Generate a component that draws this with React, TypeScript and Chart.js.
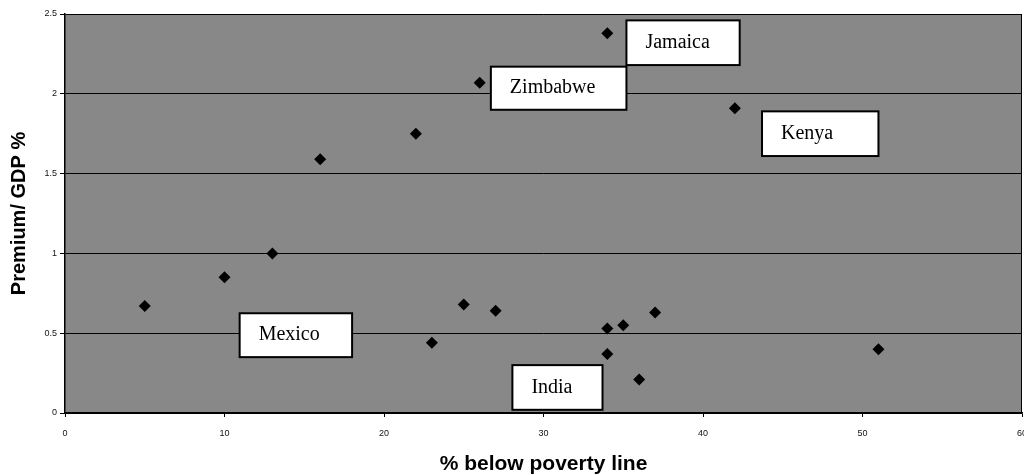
import React, { useEffect, useRef } from "react";
import { Chart, registerables } from "chart.js";

Chart.register(...registerables);

// Data
const povertyPct = [5, 10, 13, 16, 22, 23, 25, 26, 27, 34, 34, 34, 35, 36, 37, 42, 51];
const premiumGdp = [0.67, 0.85, 1.0, 1.59, 1.75, 0.44, 0.68, 2.07, 0.64, 2.38, 0.53, 0.37, 0.55, 0.21, 0.63, 1.91, 0.4];

const xTicks = [0, 10, 20, 30, 40, 50, 60];
const yTicks = [0, 0.5, 1, 1.5, 2, 2.5];

const xTitle = "% below poverty line";
const yTitle = "Premium/ GDP %";

// Callout boxes (in data units)
const labelNames = ["Jamaica", "Zimbabwe", "Kenya", "Mexico", "India"];
const labelLeft = [35.2, 26.7, 43.7, 10.95, 28.05];
const labelRight = [42.3, 35.2, 51.0, 18.0, 33.7];
const labelTop = [2.46, 2.17, 1.89, 0.625, 0.3];
const labelBottom = [2.18, 1.9, 1.61, 0.35, 0.02];

const decorPlugin = {
  id: "decor",
  beforeDraw(chart: any) {
    const { ctx, chartArea: a } = chart;
    ctx.save();
    ctx.fillStyle = "#888888";
    ctx.fillRect(a.left, a.top, a.right - a.left, a.bottom - a.top);
    ctx.restore();
  },
  afterDraw(chart: any) {
    const { ctx, chartArea: a, scales } = chart;
    const xs = scales.x;
    const ys = scales.y;
    ctx.save();
    // right border
    ctx.strokeStyle = "#000";
    ctx.lineWidth = 1;
    ctx.beginPath();
    ctx.moveTo(a.right - 0.5, a.top);
    ctx.lineTo(a.right - 0.5, a.bottom);
    ctx.stroke();
    // callouts
    ctx.font = '20px "Liberation Serif"';
    labelNames.forEach((name, i) => {
      const l = xs.getPixelForValue(labelLeft[i]);
      const r = xs.getPixelForValue(labelRight[i]);
      const t = ys.getPixelForValue(labelTop[i]);
      const b = ys.getPixelForValue(labelBottom[i]);
      ctx.fillStyle = "#fff";
      ctx.fillRect(l, t, r - l, b - t);
      ctx.lineWidth = 2;
      ctx.strokeStyle = "#000";
      ctx.strokeRect(l, t, r - l, b - t);
      ctx.fillStyle = "#000";
      ctx.textAlign = "left";
      ctx.textBaseline = "middle";
      ctx.fillText(name, l + 19, (t + b) / 2);
    });
    ctx.restore();
  },
};

export default function App() {
  const ref = useRef<HTMLCanvasElement | null>(null);

  useEffect(() => {
    if (!ref.current) return;
    const chart = new Chart(ref.current, {
      type: "scatter",
      data: {
        datasets: [
          {
            data: povertyPct.map((x, i) => ({ x, y: premiumGdp[i] })),
            pointStyle: "rectRot",
            pointRadius: 6,
            pointBackgroundColor: "#000",
            pointBorderColor: "#000",
            pointBorderWidth: 0,
          },
        ],
      },
      options: {
        responsive: false,
        animation: false,
        events: [],
        layout: { autoPadding: false, padding: { top: 14, right: 2, left: 0, bottom: 0 } },
        plugins: { legend: { display: false }, tooltip: { enabled: false } },
        scales: {
          x: {
            type: "linear",
            min: 0,
            max: 60,
            afterBuildTicks: (s: any) => {
              s.ticks = xTicks.map((v) => ({ value: v }));
            },
            afterFit: (s: any) => {
              s.height = 62;
              s.paddingLeft = 0;
              s.paddingRight = 0;
              s.getPadding = () => ({ left: 0, right: 0, top: 0, bottom: 0 });
            },
            grid: {
              drawOnChartArea: false,
              drawTicks: true,
              tickLength: 4,
              tickColor: "#000",
              tickWidth: 1,
            },
            border: { display: true, color: "#000", width: 1.5 },
            ticks: {
              color: "#111",
              font: { family: '"Liberation Sans"', size: 9 },
              padding: 11,
              maxRotation: 0,
              callback: (v: any) => String(v),
            },
            title: {
              display: true,
              text: xTitle,
              color: "#000",
              font: { family: '"Liberation Sans"', size: 21, weight: "bold", lineHeight: 1 },
              padding: { top: 0, bottom: 0 },
            },
          },
          y: {
            type: "linear",
            min: 0,
            max: 2.5,
            afterBuildTicks: (s: any) => {
              s.ticks = yTicks.map((v) => ({ value: v }));
            },
            afterFit: (s: any) => {
              s.width = 65;
            },
            grid: {
              color: "#000",
              lineWidth: 1,
              drawTicks: true,
              tickLength: 5,
              tickColor: "#000",
            },
            border: { display: true, color: "#000", width: 1.5 },
            ticks: {
              color: "#111",
              font: { family: '"Liberation Sans"', size: 9 },
              padding: 3,
              callback: (v: any) => String(v),
            },
            title: {
              display: true,
              text: yTitle,
              color: "#000",
              font: { family: '"Liberation Sans"', size: 20, weight: "bold", lineHeight: 1 },
              padding: { top: 9, bottom: 0 },
            },
          },
        },
      },
      plugins: [decorPlugin],
    } as any);
    return () => chart.destroy();
  }, []);

  return (
    <div style={{ position: "absolute", left: 0, top: 0, width: 1024, height: 475, overflow: "hidden", background: "#fff" }}>
      <canvas ref={ref} width={1024} height={475} style={{ display: "block" }} />
    </div>
  );
}
